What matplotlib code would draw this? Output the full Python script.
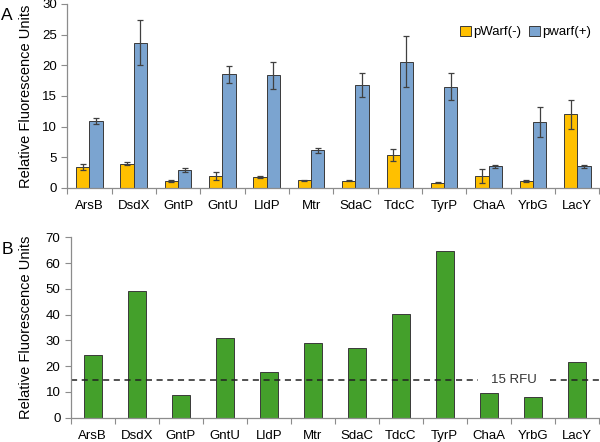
import matplotlib
matplotlib.use("Agg")
import matplotlib.pyplot as plt
import numpy as np

plt.rcParams['font.family'] = ['Liberation Sans', 'DejaVu Sans']

genes = ['ArsB', 'DsdX', 'GntP', 'GntU', 'LldP', 'Mtr',
         'SdaC', 'TdcC', 'TyrP', 'ChaA', 'YrbG', 'LacY']

# panel A: pWarf(-) / pwarf(+) with error bars
warf_minus = [3.4, 3.95, 1.1, 1.95, 1.8, 1.2, 1.15, 5.3, 0.85, 1.9, 1.15, 12.0]
warf_minus_err = [0.5, 0.3, 0.1, 0.7, 0.15, 0.05, 0.05, 1.0, 0.05, 1.15, 0.2, 2.4]
warf_plus = [10.95, 23.7, 2.9, 18.5, 18.35, 6.1, 16.8, 20.6, 16.5, 3.5, 10.75, 3.5]
warf_plus_err = [0.5, 3.7, 0.3, 1.35, 2.2, 0.45, 2.0, 4.1, 2.2, 0.2, 2.4, 0.2]

# panel B
rfu = [24.3, 49.1, 8.8, 31.0, 17.9, 28.8, 27.1, 40.2, 64.7, 9.4, 8.2, 21.6]
threshold = 14.6
threshold_label = '15 RFU'

YELLOW = '#FFC000'
BLUE = '#7BA4D0'
GREEN = '#44A02B'
EDGE = '#3a3a3a'
SPINE = '#8c8c8c'


def style_axes(ax, n):
    for s in ('top', 'right'):
        ax.spines[s].set_visible(False)
    for s in ('left', 'bottom'):
        ax.spines[s].set_color(SPINE)
        ax.spines[s].set_linewidth(0.9)
    ax.set_xlim(0, n)
    ax.set_xticks(np.arange(n + 1))
    ax.set_xticklabels([])
    ax.set_xticks(np.arange(n) + 0.5, minor=True)
    ax.set_xticklabels(genes, minor=True, fontsize=9.5)
    ax.tick_params(axis='x', which='major', length=4, color=SPINE)
    ax.tick_params(axis='x', which='minor', length=0, pad=9)
    ax.tick_params(axis='y', length=4, color=SPINE, labelsize=9.5)
    ax.set_ylabel('Relative Fluorescence Units', fontsize=10.5)


fig = plt.figure(figsize=(6, 4.42), dpi=100)
x = np.arange(len(genes)) + 0.5

# --- panel A ---
axA = fig.add_axes([0.112, 0.575, 0.887, 0.416])
w = 0.3
err_kw = dict(ecolor='#404040', elinewidth=0.9, capsize=2.5, capthick=0.9)
axA.bar(x - w / 2, warf_minus, w, yerr=warf_minus_err, color=YELLOW,
        edgecolor=EDGE, linewidth=0.7, error_kw=err_kw, label='pWarf(-)')
axA.bar(x + w / 2, warf_plus, w, yerr=warf_plus_err, color=BLUE,
        edgecolor=EDGE, linewidth=0.7, error_kw=err_kw, label='pwarf(+)')
axA.set_ylim(0, 30)
axA.set_yticks(range(0, 31, 5))
style_axes(axA, len(genes))
axA.yaxis.set_label_coords(-0.064, 0.5)
axA.legend(loc='upper right', bbox_to_anchor=(0.995, 0.91), ncol=2, frameon=False,
           fontsize=9.5, handlelength=0.8, handleheight=0.8, handletextpad=0.2,
           columnspacing=0.6, borderaxespad=0)
fig.text(0.002, 0.982, 'A', fontsize=12.5, va='top')

# --- panel B ---
axB = fig.add_axes([0.118, 0.055, 0.88, 0.408])
axB.bar(x, rfu, 0.41, color=GREEN, edgecolor=EDGE, linewidth=0.7)
axB.set_ylim(0, 70)
axB.set_yticks(range(0, 71, 10))
style_axes(axB, len(genes))
axB.yaxis.set_label_coords(-0.072, 0.5)
# dashed threshold line with a gap for its label
axB.axhline(threshold, xmin=0, xmax=9.25 / 12, color='#222222', ls=(0, (4, 3)), lw=1.1)
axB.axhline(threshold, xmin=10.9 / 12, xmax=1, color='#222222', ls=(0, (4, 3)), lw=1.1)
axB.text(10.07, threshold, threshold_label, ha='center', va='center', fontsize=9.5,
         color='#333333')
fig.text(0.002, 0.452, 'B', fontsize=12.5, va='top')

fig.savefig('out.png', dpi=100)
